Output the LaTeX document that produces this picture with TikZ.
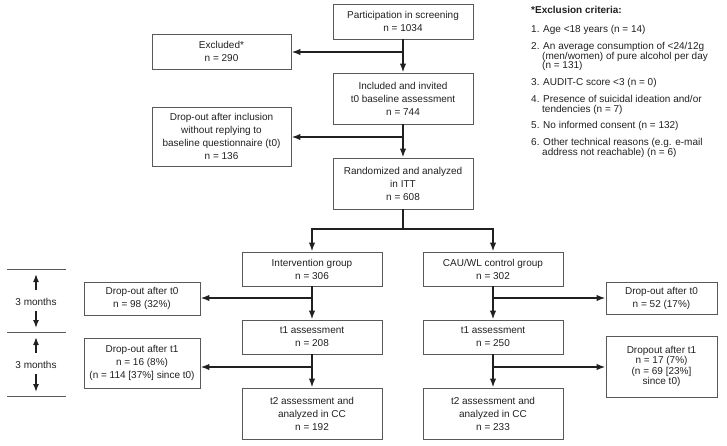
\documentclass[tikz,border=0pt]{standalone}
\usepackage{fontspec}
\setmainfont{Liberation Sans}
\usetikzlibrary{arrows.meta}
\definecolor{txt}{HTML}{231F20}
\definecolor{edge}{HTML}{58595B}
\begin{document}
\begin{tikzpicture}[x=1pt,y=-1pt,
 box/.style={draw=edge, line width=0.8pt, align=center, inner sep=0pt, text=txt, font=\fontsize{10}{13}\selectfont},
 conn/.style={line width=1.8pt, draw=txt, -{Latex[length=9pt,width=6.5pt]}},
 link/.style={line width=1.8pt, draw=txt},
 crit/.style={anchor=west, inner sep=0pt, text=txt, font=\fontsize{10}{12}\selectfont, text height=7.2pt, text depth=2pt},
 tarr/.style={line width=1.5pt, draw=txt, -{Latex[length=8pt,width=6pt]}},
 tline/.style={line width=0.6pt, draw=edge},
 tlabel/.style={inner sep=0pt, text=txt, font=\fontsize{10}{12}\selectfont}]
\useasboundingbox (0,0) rectangle (727,445);

% main column
\node[box, minimum width=140, minimum height=35] (p) at (403,21.5) {Participation in screening\\n = 1034};
\node[box, minimum width=139, minimum height=35] (exc) at (221.5,51.5) {Excluded*\\n = 290};
\node[box, minimum width=140, minimum height=51] (inc) at (403,98.5) {Included and invited\\t0 baseline assessment\\n = 744};
\node[box, minimum width=139, minimum height=59] (drop0) at (221.5,136.5) {Drop-out after inclusion\\without replying to\\baseline questionnaire (t0)\\n = 136};
\node[box, minimum width=140, minimum height=51] (rand) at (403,183.5) {Randomized and analyzed\\in ITT\\n = 608};

% arms
\node[box, minimum width=140, minimum height=34] (int) at (312,269) {Intervention group\\n = 306};
\node[box, minimum width=140, minimum height=34] (cau) at (493,269) {CAU/WL control group\\n = 302};
\node[box, minimum width=140, minimum height=34] (it1) at (312,337) {t1 assessment\\n = 208};
\node[box, minimum width=140, minimum height=34] (ct1) at (493,337) {t1 assessment\\n = 250};
\node[box, minimum width=140, minimum height=51] (it2) at (312,413.5) {t2 assessment and\\analyzed in CC\\n = 192};
\node[box, minimum width=140, minimum height=51] (ct2) at (493,413.5) {t2 assessment and\\analyzed in CC\\n = 233};

\node[box, minimum width=116, minimum height=33] (idt0) at (142,298.5) {Drop-out after t0\\n = 98 (32\%)};
\node[box, minimum width=116, minimum height=50] (idt1) at (142,363) {Drop-out after t1\\n = 16 (8\%)\\(n = 114 [37\%] since t0)};
\node[box, minimum width=111, minimum height=32] (cdt0) at (661.5,298) {Drop-out after t0\\n = 52 (17\%)};
\node[box, minimum width=111, minimum height=61, font=\fontsize{10}{10.5}\selectfont] (cdt1) at (661.5,366.5) {Dropout after t1\\n = 17 (7\%)\\(n = 69 [23\%]\\since t0)};

% connectors
\coordinate (j1) at (403,52);
\coordinate (j2) at (403,137);
\coordinate (j3) at (403,229);
\coordinate (j4) at (312,298);
\coordinate (j5) at (312,367);
\coordinate (j6) at (493,298);
\coordinate (j7) at (493,367);

\draw[conn] (p) -- (inc);
\draw[conn] (j1) -- (j1 -| exc.east);
\draw[conn] (inc) -- (rand);
\draw[conn] (j2) -- (j2 -| drop0.east);
\draw[link] (rand.south) -- (j3);
\draw[conn] (j3) -| (int.north);
\draw[conn] (j3) -| (cau.north);
\draw[conn] (int) -- (it1);
\draw[conn] (j4) -- (j4 -| idt0.east);
\draw[conn] (it1) -- (it2);
\draw[conn] (j5) -- (j5 -| idt1.east);
\draw[conn] (cau) -- (ct1);
\draw[conn] (j6) -- (j6 -| cdt0.west);
\draw[conn] (ct1) -- (ct2);
\draw[conn] (j7) -- (j7 -| cdt1.west);

% time scale
\draw[tline] (7,269) -- (66,269);
\draw[tline] (7,332) -- (66,332);
\draw[tline] (7,396) -- (66,396);
\node[tlabel] (m1) at (36,302) {3 months};
\node[tlabel] (m2) at (36,365) {3 months};
\draw[tarr] (36,290) -- (36,274);
\draw[tarr] (36,311) -- (36,328);
\draw[tarr] (36,353) -- (36,337);
\draw[tarr] (36,374) -- (36,392);

% exclusion criteria
\node[crit, font=\bfseries\fontsize{10}{12}\selectfont] (c0) at (531,11) {*Exclusion criteria:};
\node[crit] (c1) at (531,30) {1. Age <18 years (n = 14)};
\node[crit] (c2a) at (531,47) {2. An average consumption of <24/12g};
\node[crit] (c2b) at (542,56.5) {(men/women) of pure alcohol per day};
\node[crit] (c2c) at (542,66) {(n = 131)};
\node[crit] (c3) at (531,83) {3. AUDIT-C score <3 (n = 0)};
\node[crit] (c4a) at (531,100) {4. Presence of suicidal ideation and/or};
\node[crit] (c4b) at (542,109.5) {tendencies (n = 7)};
\node[crit] (c5) at (531,126) {5. No informed consent (n = 132)};
\node[crit] (c6a) at (531,143) {6. Other technical reasons (e.g. e-mail};
\node[crit] (c6b) at (542,152.5) {address not reachable) (n = 6)};
\end{tikzpicture}
\end{document}
